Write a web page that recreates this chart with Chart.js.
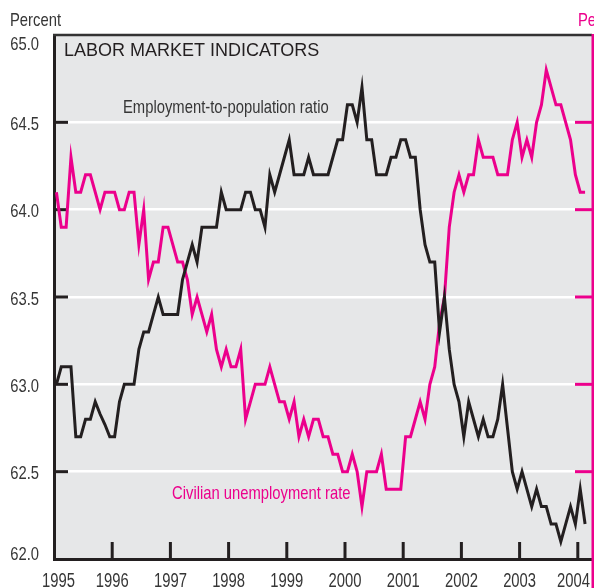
<!DOCTYPE html>
<html>
<head>
<meta charset="utf-8">
<script src="https://cdn.jsdelivr.net/npm/chart.js@4.4.1/dist/chart.umd.min.js"></script>
<style>
  html, body { margin: 0; padding: 0; background: #fff; overflow: hidden; }
</style>
</head>
<body>
<canvas id="chart" width="594" height="588"></canvas>
<script>
// monthly series, Jan 1995 - Feb 2004
const START_YEAR = 1995;
const yearTicks  = [1995, 1996, 1997, 1998, 1999, 2000, 2001, 2002, 2003, 2004];
const leftTicks  = [62.0, 62.5, 63.0, 63.5, 64.0, 64.5, 65.0];
const rightTicks = [3.5, 4.0, 4.5, 5.0, 5.5, 6.0, 6.5];

// employment-to-population ratio (left scale)
const empPop = [
    63.0, 63.1, 63.1, 63.1, 62.7, 62.7, 62.8, 62.8, 62.9, 62.83, 62.77, 62.7,
    62.7, 62.9, 63.0, 63.0, 63.0, 63.2, 63.3, 63.3, 63.4, 63.5, 63.4, 63.4,
    63.4, 63.4, 63.6, 63.7, 63.8, 63.7, 63.9, 63.9, 63.9, 63.9, 64.1, 64.0,
    64.0, 64.0, 64.0, 64.1, 64.1, 64.0, 64.0, 63.9, 64.2, 64.1, 64.2, 64.3,
    64.4, 64.2, 64.2, 64.2, 64.3, 64.2, 64.2, 64.2, 64.2, 64.3, 64.4, 64.4,
    64.6, 64.6, 64.5, 64.7, 64.4, 64.4, 64.2, 64.2, 64.2, 64.3, 64.3, 64.4,
    64.4, 64.3, 64.3, 64.0, 63.8, 63.7, 63.7, 63.3, 63.5, 63.2, 63.0, 62.9,
    62.7, 62.9, 62.8, 62.7, 62.8, 62.7, 62.7, 62.8, 63.0, 62.75, 62.5, 62.4,
    62.5, 62.4, 62.3, 62.4, 62.3, 62.3, 62.2, 62.2, 62.1, 62.2, 62.3, 62.2,
    62.4, 62.2,
];

// civilian unemployment rate (right scale)
const unempRate = [
    5.6, 5.4, 5.4, 5.8, 5.6, 5.6, 5.7, 5.7, 5.6, 5.5, 5.6, 5.6,
    5.6, 5.5, 5.5, 5.6, 5.6, 5.3, 5.5, 5.1, 5.2, 5.2, 5.4, 5.4,
    5.3, 5.2, 5.2, 5.1, 4.9, 5.0, 4.9, 4.8, 4.9, 4.7, 4.6, 4.7,
    4.6, 4.6, 4.7, 4.3, 4.4, 4.5, 4.5, 4.5, 4.6, 4.5, 4.4, 4.4,
    4.3, 4.4, 4.2, 4.3, 4.2, 4.3, 4.3, 4.2, 4.2, 4.1, 4.1, 4.0,
    4.0, 4.1, 4.0, 3.8, 4.0, 4.0, 4.0, 4.1, 3.9, 3.9, 3.9, 3.9,
    4.2, 4.2, 4.3, 4.4, 4.3, 4.5, 4.6, 4.85, 5.0, 5.4, 5.6, 5.7,
    5.6, 5.7, 5.7, 5.9, 5.8, 5.8, 5.8, 5.7, 5.7, 5.7, 5.9, 6.0,
    5.8, 5.9, 5.8, 6.0, 6.1, 6.3, 6.2, 6.1, 6.1, 6.0, 5.9, 5.7,
    5.6, 5.6,
];

const SANS  = "'Liberation Sans', Arial, sans-serif";
const PINK  = '#ec008c';
const INK   = '#231f20';
const GREY  = '#363636';
const SQUEEZE = 0.8;   // no narrow face installed, so squeeze Arial-metric text

// point sits in the middle of its month
const toPoints = arr => arr.map((v, i) => ({ x: START_YEAR + (i + 0.5) / 12, y: v }));

function seg(ctx, x1, y1, x2, y2) {
    ctx.beginPath();
    ctx.moveTo(x1, y1);
    ctx.lineTo(x2, y2);
    ctx.stroke();
}

// condensed text; x is the anchor given by align
function narrowText(ctx, text, x, y, align, color, size = 18.5, squeeze = SQUEEZE) {
    ctx.save();
    ctx.font = `${size}px ${SANS}`;
    ctx.fillStyle = color;
    ctx.textAlign = align;
    ctx.textBaseline = 'alphabetic';
    ctx.translate(x, y);
    ctx.scale(squeeze, 1);
    ctx.fillText(text, 0, 0);
    ctx.restore();
}

function narrowWidth(ctx, text, size = 18.5, squeeze = SQUEEZE) {
    ctx.save();
    ctx.font = `${size}px ${SANS}`;
    const w = ctx.measureText(text).width * squeeze;
    ctx.restore();
    return w;
}

const framePlugin = {
    id: 'frame',
    beforeDraw(chart) {
        const { ctx, chartArea: a } = chart;
        ctx.save();
        ctx.fillStyle = '#e6e7e8';
        ctx.fillRect(a.left, a.top, a.right - a.left, a.bottom - a.top);
        ctx.restore();
    },
    beforeDatasetsDraw(chart) {
        const { ctx, chartArea: a, scales } = chart;
        ctx.save();
        ctx.lineCap = 'butt';

        // top border
        ctx.strokeStyle = '#333333';
        ctx.lineWidth = 2.5;
        seg(ctx, a.left - 1, a.top, a.right, a.top);

        // inner tick marks
        ctx.lineWidth = 3;
        ctx.strokeStyle = INK;
        leftTicks.slice(1, -1).forEach(v => {
            const y = scales.y.getPixelForValue(v);
            seg(ctx, a.left, y, a.left + 14, y);
        });
        yearTicks.slice(1).forEach(yr => {
            const x = scales.x.getPixelForValue(yr);
            seg(ctx, x, a.bottom, x, a.bottom - 17);
        });
        ctx.strokeStyle = PINK;
        rightTicks.slice(1, -1).forEach(v => {
            const y = scales.y2.getPixelForValue(v);
            seg(ctx, a.right - 17, y, a.right, y);
        });
        ctx.restore();
    },
    afterDraw(chart) {
        const { ctx, chartArea: a, scales } = chart;
        ctx.save();

        // right (pink) axis line runs down past the bottom axis
        ctx.strokeStyle = PINK;
        ctx.lineWidth = 3;
        seg(ctx, a.right + 1, a.top - 1, a.right + 1, chart.height);
        ctx.restore();

        // left tick labels, end ones pulled inside
        leftTicks.forEach(v => {
            let y = scales.y.getPixelForValue(v) + 7.5;
            y = Math.min(Math.max(y, a.top + 15), a.bottom + 1);
            narrowText(ctx, v.toFixed(1), 39, y, 'right', GREY);
        });

        // year labels, end ones kept on the canvas
        yearTicks.forEach(yr => {
            const label = String(yr);
            const w = narrowWidth(ctx, label, 20, 0.74);
            let cx = scales.x.getPixelForValue(yr);
            cx = Math.min(Math.max(cx, 42 + w / 2), 590 - w / 2);
            narrowText(ctx, label, cx, a.bottom + 27.5, 'center', GREY, 20, 0.74);
        });

        narrowText(ctx, 'Percent', 10, 26, 'left', GREY);
        narrowText(ctx, 'Percent', 578, 26, 'left', PINK);
        narrowText(ctx, 'Employment-to-population ratio', 123, 113, 'left', GREY);
        narrowText(ctx, 'Civilian unemployment rate', 172, 499, 'left', PINK);

        ctx.save();
        ctx.font = `18px ${SANS}`;
        ctx.fillStyle = INK;
        ctx.textAlign = 'left';
        ctx.fillText('LABOR MARKET INDICATORS', 64, 56);
        ctx.restore();
    },
};

new Chart(document.getElementById('chart'), {
    type: 'line',
    data: {
        datasets: [
            {
                label: 'Employment-to-population ratio',
                data: toPoints(empPop),
                yAxisID: 'y',
                borderColor: INK,
                borderWidth: 3,
                pointRadius: 0,
                tension: 0,
            },
            {
                label: 'Civilian unemployment rate',
                data: toPoints(unempRate),
                yAxisID: 'y2',
                borderColor: PINK,
                borderWidth: 3,
                pointRadius: 0,
                tension: 0,
            },
        ],
    },
    options: {
        responsive: false,
        animation: false,
        devicePixelRatio: 1,
        layout: { padding: { top: 35, left: 0, right: 0, bottom: 0 } },
        plugins: { legend: { display: false }, tooltip: { enabled: false } },
        scales: {
            x: {
                type: 'linear',
                min: 1995,
                max: 2004.244,
                afterBuildTicks: s => { s.ticks = yearTicks.map(v => ({ value: v })); },
                afterFit: s => { s.height = 29; },
                grid: { display: false },
                border: { display: true, color: INK, width: 3 },
                ticks: { display: false },
            },
            y: {
                position: 'left',
                min: 62, max: 65,
                afterBuildTicks: s => { s.ticks = leftTicks.map(v => ({ value: v })); },
                afterFit: s => { s.width = 54; },
                grid: {
                    drawTicks: false,
                    lineWidth: 2.5,
                    color: c => (c.tick && (c.tick.value === 62 || c.tick.value === 65)) ? 'rgba(0,0,0,0)' : '#ffffff',
                },
                border: { display: true, color: INK, width: 3 },
                ticks: { display: false },
            },
            y2: {
                position: 'right',
                min: 3.5, max: 6.5,
                afterBuildTicks: s => { s.ticks = rightTicks.map(v => ({ value: v })); },
                afterFit: s => { s.width = 2; },
                grid: { display: false },
                border: { display: false },
                ticks: { display: false },
            },
        },
    },
    plugins: [framePlugin],
});
</script>
</body>
</html>
